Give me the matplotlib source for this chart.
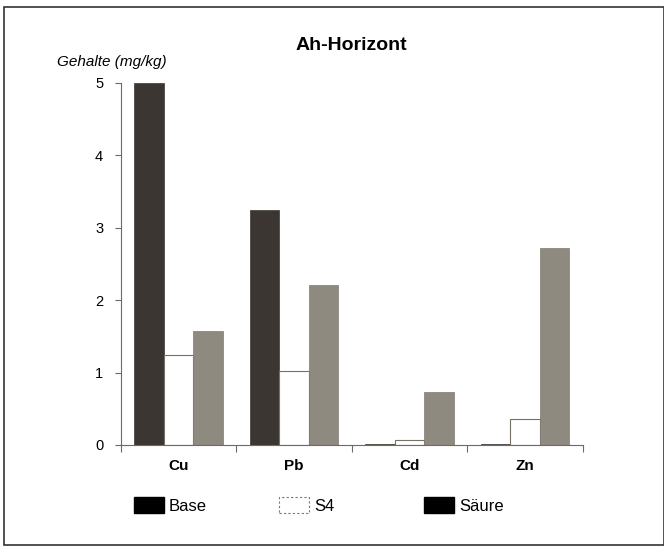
import matplotlib
matplotlib.use("Agg")
import matplotlib.pyplot as plt
from matplotlib.patches import Patch, Rectangle
import numpy as np

plt.rcParams['font.family'] = ['Liberation Sans', 'DejaVu Sans']

categories = ["Cu", "Pb", "Cd", "Zn"]
series_names = ["Base", "S4", "Säure"]
base = [5.0, 3.25, 0.01, 0.01]
s4 = [1.25, 1.02, 0.07, 0.36]
saeure = [1.57, 2.21, 0.73, 2.72]
yticks = [0, 1, 2, 3, 4, 5]

W, H = 664, 546
fig = plt.figure(figsize=(W / 100, H / 100), dpi=100)
ax = fig.add_axes([120.5 / W, 1 - 445 / H, (583 - 120.5) / W, (445 - 83) / H])

x = np.arange(len(categories))
bw = 0.255
spine_c = "#6e6a60"
ax.bar(x - bw, base, bw, color="#3b3631", edgecolor="#3b3631", linewidth=0.5)
ax.bar(x, s4, bw, color="white", edgecolor="#777065", linewidth=0.8)
ax.bar(x + bw, saeure, bw, color="#8f8a7f", edgecolor="#7f7a70", linewidth=0.5)

ax.set_xlim(-0.5, len(categories) - 0.5)
ax.set_ylim(0, 5)
ax.set_yticks(yticks)
ax.set_yticklabels([str(v) for v in yticks], fontsize=10.5)
ax.set_xticks(np.arange(len(categories) + 1) - 0.5, minor=False)
ax.set_xticklabels([])
ax.set_xticks(x, minor=True)
ax.set_xticklabels(categories, minor=True, fontsize=11, fontweight="bold")
ax.tick_params(axis="x", which="major", direction="out", length=5, color=spine_c, width=0.8)
ax.tick_params(axis="x", which="minor", length=0, pad=10)
ax.tick_params(axis="y", direction="out", length=4, color=spine_c, width=0.8, pad=8.5)
for s in ["top", "right"]:
    ax.spines[s].set_visible(False)
for s in ["left", "bottom"]:
    ax.spines[s].set_color(spine_c)
    ax.spines[s].set_linewidth(0.8)

fig.text(351 / W, 1 - 46 / H, "Ah-Horizont", ha="center", va="center",
         fontsize=14, fontweight="bold")
fig.text(57 / W, 1 - 62 / H, "Gehalte (mg/kg)", ha="left", va="center",
         fontsize=11, style="italic")

handles = [
    Patch(facecolor="black", edgecolor="black"),
    Patch(facecolor="white", edgecolor="#777777", linestyle=(0, (2, 2)), linewidth=0.8),
    Patch(facecolor="black", edgecolor="black"),
]
xs = [134, 279, 424]
for h, name, xp in zip(handles, series_names, xs):
    fig.legend([h], [name], loc="center left",
               bbox_to_anchor=(xp / W, 1 - 505.5 / H), frameon=False,
               fontsize=12, handlelength=1.8, handleheight=1.05,
               handletextpad=0.3, borderpad=0, borderaxespad=0)

fig.add_artist(Rectangle((4 / W, 1 / H), (W - 4.5) / W, (H - 8) / H,
                         transform=fig.transFigure, fill=False,
                         edgecolor="#333333", linewidth=1.2))

fig.savefig("out.png", dpi=100)
